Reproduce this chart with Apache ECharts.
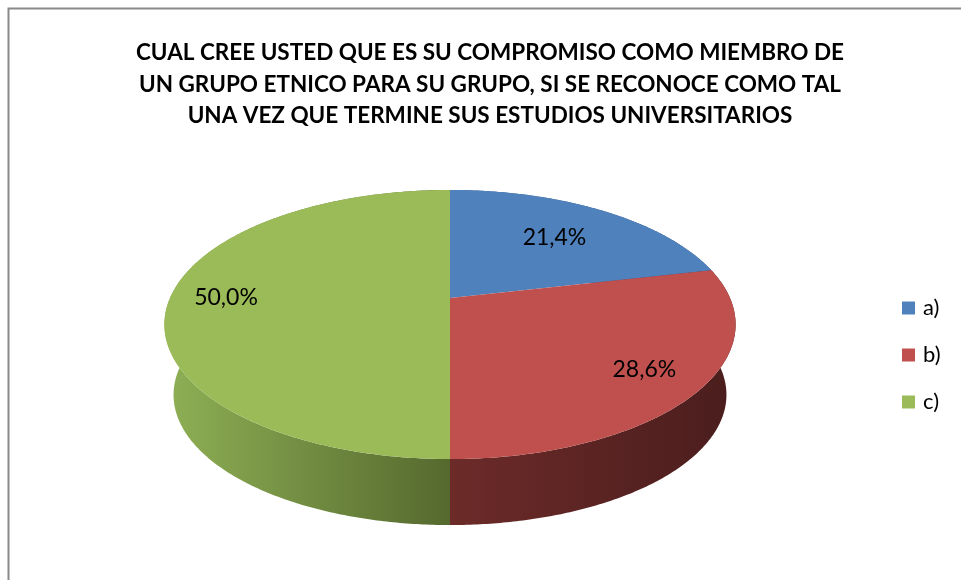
<!DOCTYPE html>
<html>
<head>
<meta charset="utf-8">
<script src="https://cdn.jsdelivr.net/npm/echarts@6/dist/echarts.min.js"></script>
<style>
  html, body { margin: 0; padding: 0; background: #fff; }
  #chart { width: 961px; height: 580px; }
</style>
</head>
<body>
<div id="chart"></div>
<script>
// datos
const categories = ["a)", "b)", "c)"];
const values = [21.4, 28.6, 50.0];
const titleLines = [
  "CUAL CREE USTED QUE ES SU COMPROMISO COMO MIEMBRO DE",
  "UN GRUPO ETNICO PARA SU GRUPO, SI SE RECONOCE COMO TAL",
  "UNA VEZ QUE TERMINE SUS ESTUDIOS UNIVERSITARIOS",
];

const topColors = ["#4f81bd", "#c0504d", "#9bbb59"];
const sideColors = [
  ["#3d6594", "#2f4e73"],
  ["#6c2b29", "#4a1d1d"],
  ["#8fb055", "#55692e"],
];

// 3d look (perspective of the tilted disc)
const P = 0.197;
const SQUASH = 0.462;
const DEPTH = 0.254;
const BASE_SCALE = 0.968;
// label distance from centre, per slice (excel "best fit")
const labelRadius = [0.66, 0.8, 0.8];

let cum = [];
let acc = 0;
values.forEach((v) => {
  cum.push(acc);
  acc += v;
});
const total = acc;

function topPt(theta, f) {
  const u = Math.sin(theta) * f, v = Math.cos(theta) * f;
  const d = 1 + P * v;
  return [u / d, (SQUASH * v) / d];
}
function basePt(theta) {
  const u = Math.sin(theta), v = Math.cos(theta);
  const d = 1 + P * v;
  return [(BASE_SCALE * u) / d, -DEPTH + (BASE_SCALE * SQUASH * v) / d];
}
function arc(api, start, pct, fn) {
  const a0 = (start / total) * Math.PI * 2;
  const a1 = ((start + pct) / total) * Math.PI * 2;
  const n = Math.max(2, Math.ceil((a1 - a0) / 0.01));
  const pts = [];
  for (let k = 0; k <= n; k++) {
    pts.push(api.coord(fn(a0 + ((a1 - a0) * k) / n)));
  }
  return pts;
}

function renderSide(params, api) {
  const start = api.value(0), pct = api.value(1);
  const top = arc(api, start, pct, (t) => topPt(t, 1));
  const base = arc(api, start, pct, basePt).reverse();
  const xs = top.map((p) => p[0]);
  const c = sideColors[params.dataIndex];
  return {
    type: "polygon",
    shape: { points: top.concat(base) },
    style: {
      fill: new echarts.graphic.LinearGradient(
        Math.min(...xs), 0, Math.max(...xs), 0,
        [{ offset: 0, color: c[0] }, { offset: 1, color: c[1] }],
        true
      ),
    },
  };
}

function renderTop(params, api) {
  const start = api.value(0), pct = api.value(1);
  const idx = api.value(2);
  const center = api.coord([0, 0]);
  const pts = [center].concat(arc(api, start, pct, (t) => topPt(t, 1)));
  const mid = ((start + pct / 2) / total) * Math.PI * 2;
  const lp = api.coord(topPt(mid, labelRadius[idx]));
  return {
    type: "group",
    children: [
      {
        type: "polygon",
        shape: { points: pts },
        style: { fill: api.visual("color") },
      },
      {
        type: "text",
        x: lp[0],
        y: lp[1],
        style: {
          text: pct.toFixed(1).replace(".", ",") + "%",
          fill: "#000",
          font: "23px Lato",
          align: "center",
          verticalAlign: "middle",
        },
      },
    ],
  };
}

let myChart = echarts.init(document.getElementById("chart"));

let option = {
  animation: false,
  title: {
    text: titleLines.join("\n"),
    left: 485,
    top: 32,
    textAlign: "center",
    textStyle: {
      fontFamily: "Lato",
      fontWeight: "bold",
      fontSize: 22.5,
      lineHeight: 31.5,
      color: "#000",
    },
  },
  legend: {
    data: categories,
    orient: "vertical",
    left: 902,
    top: 297,
    padding: 0,
    itemGap: 25,
    itemWidth: 13,
    itemHeight: 13,
    icon: "rect",
    textStyle: {
      fontFamily: "Lato",
      fontSize: 22,
      lineHeight: 22,
      color: "#000",
      padding: [0, 0, 0, 3],
    },
  },
  graphic: [
    {
      type: "rect",
      shape: { x: 8.5, y: 8.5, width: 980, height: 640 },
      style: { fill: "none", stroke: "#8a8a8a", lineWidth: 2 },
      silent: true,
    },
  ],
  grid: { left: 170, right: 231, top: 18, bottom: 2 },
  xAxis: { type: "value", min: -1, max: 1, show: false },
  yAxis: { type: "value", min: -1, max: 1, show: false },
  series: [
    {
      type: "custom",
      name: "lados",
      renderItem: renderSide,
      data: values.map((v, i) => [cum[i], v]),
      silent: true,
      z: 1,
    },
  ].concat(
    categories.map((name, i) => ({
      type: "custom",
      name: name,
      renderItem: renderTop,
      itemStyle: { color: topColors[i] },
      data: [[cum[i], values[i], i]],
      z: 2,
    }))
  ),
};

myChart.setOption(option);
</script>
</body>
</html>
